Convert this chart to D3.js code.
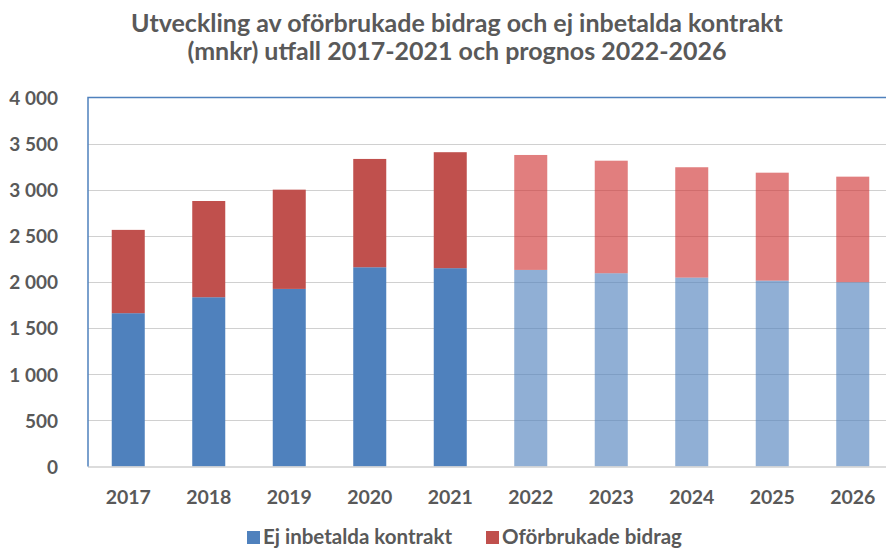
<!DOCTYPE html>
<html>
<head>
<meta charset="utf-8">
<script src="https://cdn.jsdelivr.net/npm/d3@7"></script>
<style>
  html, body { margin: 0; padding: 0; background: #fff; }
  svg { display: block; font-family: Lato, "Open Sans", sans-serif; }
</style>
</head>
<body>
<svg id="chart" width="886" height="549"></svg>
<script>
const years = ["2017","2018","2019","2020","2021","2022","2023","2024","2025","2026"];
const ejInbetalda = [1662, 1835, 1925, 2160, 2150, 2131, 2095, 2048, 2015, 1998];
const oforbrukade = [903, 1043, 1076, 1174, 1257, 1246, 1220, 1196, 1170, 1144];
const forecastFrom = "2022";
const yTicks = [0, 500, 1000, 1500, 2000, 2500, 3000, 3500, 4000];
const titleLines = ["Utveckling av oförbrukade bidrag och ej inbetalda kontrakt", "(mnkr) utfall 2017-2021 och prognos 2022-2026"];
const seriesNames = ["Ej inbetalda kontrakt", "Oförbrukade bidrag"];
const seriesColors = ["#4F81BD", "#C0504D"];
const forecastColors = ["#4F81BD", "#D03232"];

(function () {
const svg = d3.select("#chart");
const pL = 88, pR = 893, pT = 97.5, pB = 466.5;
const textColor = "#595959";

const x = d3.scaleBand().domain(years).range([pL, pR]).paddingInner(0.59).paddingOuter(0.295);
const y = d3.scaleLinear().domain([0, 4000]).range([pB, pT]);

// title
svg.append("g").selectAll("text").data(titleLines).join("text")
  .attr("x", 457).attr("y", (d, i) => 32 + i * 27.5)
  .attr("text-anchor", "middle")
  .attr("font-size", 25).attr("font-weight", "bold").attr("fill", textColor)
  .text(d => d);

// gridlines
svg.append("g").selectAll("line").data(yTicks.filter(t => t > 0 && t < 4000)).join("line")
  .attr("x1", pL).attr("x2", 886)
  .attr("y1", d => Math.round(y(d)) + 0.5).attr("y2", d => Math.round(y(d)) + 0.5)
  .attr("stroke", "#D0D0D0").attr("stroke-width", 1.2);

// stacked data
const table = years.map((yr, i) => ({ year: yr, a: ejInbetalda[i], b: oforbrukade[i] }));
const stack = d3.stack().keys(["a", "b"])(table);

const isForecast = yr => +yr >= +forecastFrom;

stack.forEach((layer, li) => {
  svg.append("g").selectAll("rect").data(layer).join("rect")
    .attr("x", d => x(d.data.year))
    .attr("width", x.bandwidth())
    .attr("y", d => y(d[1]))
    .attr("height", d => y(d[0]) - y(d[1]))
    .attr("fill", d => isForecast(d.data.year) ? forecastColors[li] : seriesColors[li])
    .attr("fill-opacity", d => isForecast(d.data.year) ? 0.63 : 1);
});

// bottom axis line
svg.append("line").attr("x1", pL).attr("x2", 886).attr("y1", pB + 0.5).attr("y2", pB + 0.5)
  .attr("stroke", "#D0D0D0").attr("stroke-width", 1.5);

// border (left + top)
svg.append("path")
  .attr("d", `M${pL},${pB} L${pL},${pT} L886,${pT}`)
  .attr("fill", "none").attr("stroke", "#4F81BD").attr("stroke-width", 1.5);

// y axis labels
const fmt = v => v >= 1000 ? d3.format(",")(v).replace(",", " ") : String(v);
const yAxis = d3.axisLeft(y).tickValues(yTicks).tickSize(0).tickPadding(0).tickFormat(fmt);
const gy = svg.append("g").attr("transform", `translate(58,0)`).call(yAxis);
gy.select(".domain").remove();
gy.selectAll("text").attr("font-size", 19).attr("font-weight", "bold").attr("fill", textColor)
  .attr("font-family", "Lato, sans-serif").attr("dy", "0.36em");

// x axis labels
const xAxis = d3.axisBottom(x).tickSize(0).tickPadding(0);
const gx = svg.append("g").attr("transform", `translate(0,${pB})`).call(xAxis);
gx.select(".domain").remove();
gx.selectAll("text").attr("font-size", 19.5).attr("font-weight", "bold").attr("fill", textColor)
  .attr("font-family", "Lato, sans-serif").attr("y", 37).attr("dy", 0);

// legend
const legendX = [247, 486];
const lg = svg.append("g").selectAll("g").data(seriesNames).join("g")
  .attr("transform", (d, i) => `translate(${legendX[i]},0)`);
lg.append("rect").attr("x", 0).attr("y", 531).attr("width", 13).attr("height", 13)
  .attr("fill", (d, i) => seriesColors[i]);
lg.append("text").attr("x", 16).attr("y", 544)
  .attr("font-size", 20.5).attr("font-weight", "bold").attr("fill", textColor)
  .text(d => d);
})();
</script>
</body>
</html>
